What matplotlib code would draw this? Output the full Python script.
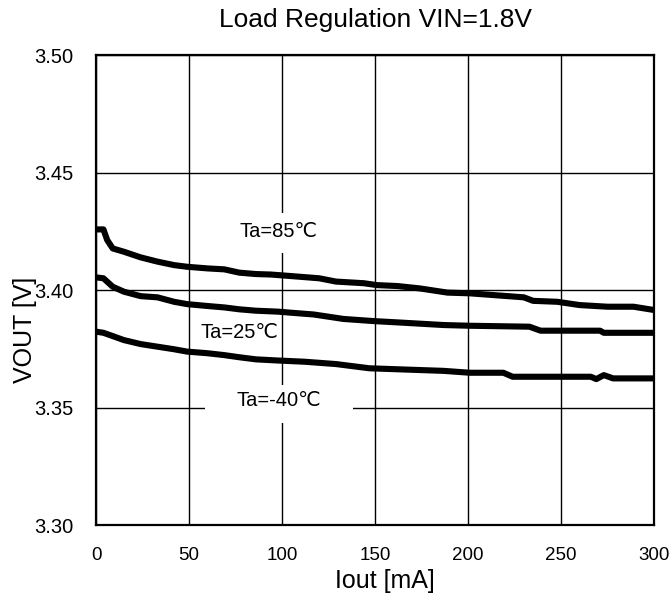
# Load regulation curves, VOUT vs Iout at three ambient temperatures.

import matplotlib
matplotlib.use("Agg")
import matplotlib.pyplot as plt
from matplotlib.patches import Rectangle

plt.rcParams['font.family'] = ['Liberation Sans', 'DejaVu Sans']

# Data (Iout in mA, VOUT in V)
iout_85 = [0, 4, 6, 9, 15, 24, 33, 42, 49, 60, 69, 77, 86, 94, 104, 120, 129,
           144, 151, 162, 174, 189, 201, 230, 235, 248, 260, 275, 289, 300]
vout_85 = [3.4258, 3.4258, 3.4213, 3.4177, 3.4163, 3.4139, 3.4121, 3.4106,
           3.4099, 3.4092, 3.4088, 3.4074, 3.4068, 3.4066, 3.4060, 3.4050,
           3.4036, 3.4029, 3.4021, 3.4017, 3.4007, 3.3989, 3.3986, 3.3969,
           3.3954, 3.3950, 3.3936, 3.3929, 3.3929, 3.3915]

iout_25 = [0, 4, 9, 15, 24, 33, 42, 49, 60, 69, 77, 86, 98, 104, 117, 133,
           149, 165, 187, 201, 233, 239, 271, 273, 300]
vout_25 = [3.4054, 3.4050, 3.4014, 3.3993, 3.3974, 3.3969, 3.3950, 3.3940,
           3.3932, 3.3926, 3.3918, 3.3912, 3.3908, 3.3904, 3.3896, 3.3877,
           3.3868, 3.3861, 3.3851, 3.3848, 3.3844, 3.3827, 3.3827, 3.3818,
           3.3818]

iout_m40 = [0, 4, 9, 15, 24, 33, 42, 49, 60, 69, 77, 86, 98, 112, 129, 147,
            165, 187, 201, 219, 224, 266, 269, 273, 278, 300]
vout_m40 = [3.3823, 3.3818, 3.3804, 3.3787, 3.3770, 3.3759, 3.3748, 3.3738,
            3.3731, 3.3723, 3.3714, 3.3705, 3.3700, 3.3695, 3.3685, 3.3667,
            3.3662, 3.3656, 3.3648, 3.3648, 3.3631, 3.3631, 3.3621, 3.3638,
            3.3624, 3.3624]

x_ticks = [0, 50, 100, 150, 200, 250, 300]
y_ticks = [3.30, 3.35, 3.40, 3.45, 3.50]

fig = plt.figure(figsize=(6.69, 5.99), dpi=100)
ax = fig.add_axes([0.1435, 0.1235, 0.8341, 0.7846])

for x, y in [(iout_85, vout_85), (iout_25, vout_25), (iout_m40, vout_m40)]:
    ax.plot(x, y, color='black', linewidth=4.4, solid_capstyle='round',
            solid_joinstyle='round', zorder=3)

ax.set_xlim(0, 300)
ax.set_ylim(3.30, 3.50)
ax.set_xticks(x_ticks)
ax.set_yticks(y_ticks)
ax.set_yticklabels([f'{v:.2f}' for v in y_ticks])
ax.tick_params(axis='y', length=0, labelsize=14.5, pad=16)
ax.tick_params(axis='x', length=0, labelsize=13.5, pad=16)
ax.set_axisbelow(True)
ax.grid(True, color='black', linewidth=1.0)
for spine in ax.spines.values():
    spine.set_linewidth(1.6)

# white boxes behind two of the labels hide the grid lines
ax.add_patch(Rectangle((61, 3.4157), 74, 0.0171, facecolor='white',
                       edgecolor='none', zorder=1.5))
ax.add_patch(Rectangle((58.6, 3.3434), 79.6, 0.0162, facecolor='white',
                       edgecolor='none', zorder=1.5))

ax.text(98.4, 3.4251, 'Ta=85℃', fontsize=14.5, ha='center', va='center', zorder=4)
ax.text(76.9, 3.3820, 'Ta=25℃', fontsize=14.5, ha='center', va='center', zorder=4)
ax.text(98.1, 3.3529, 'Ta=-40℃', fontsize=14.5, ha='center', va='center', zorder=4)

ax.set_title('Load Regulation VIN=1.8V', fontsize=19, pad=20)
ax.set_xlabel('Iout [mA]', fontsize=18)
ax.set_ylabel('VOUT [V]', fontsize=18)
ax.xaxis.set_label_coords(0.518, -0.093)
ax.yaxis.set_label_coords(-0.106, 0.415)

plt.savefig('out.png', dpi=100, facecolor='white')
